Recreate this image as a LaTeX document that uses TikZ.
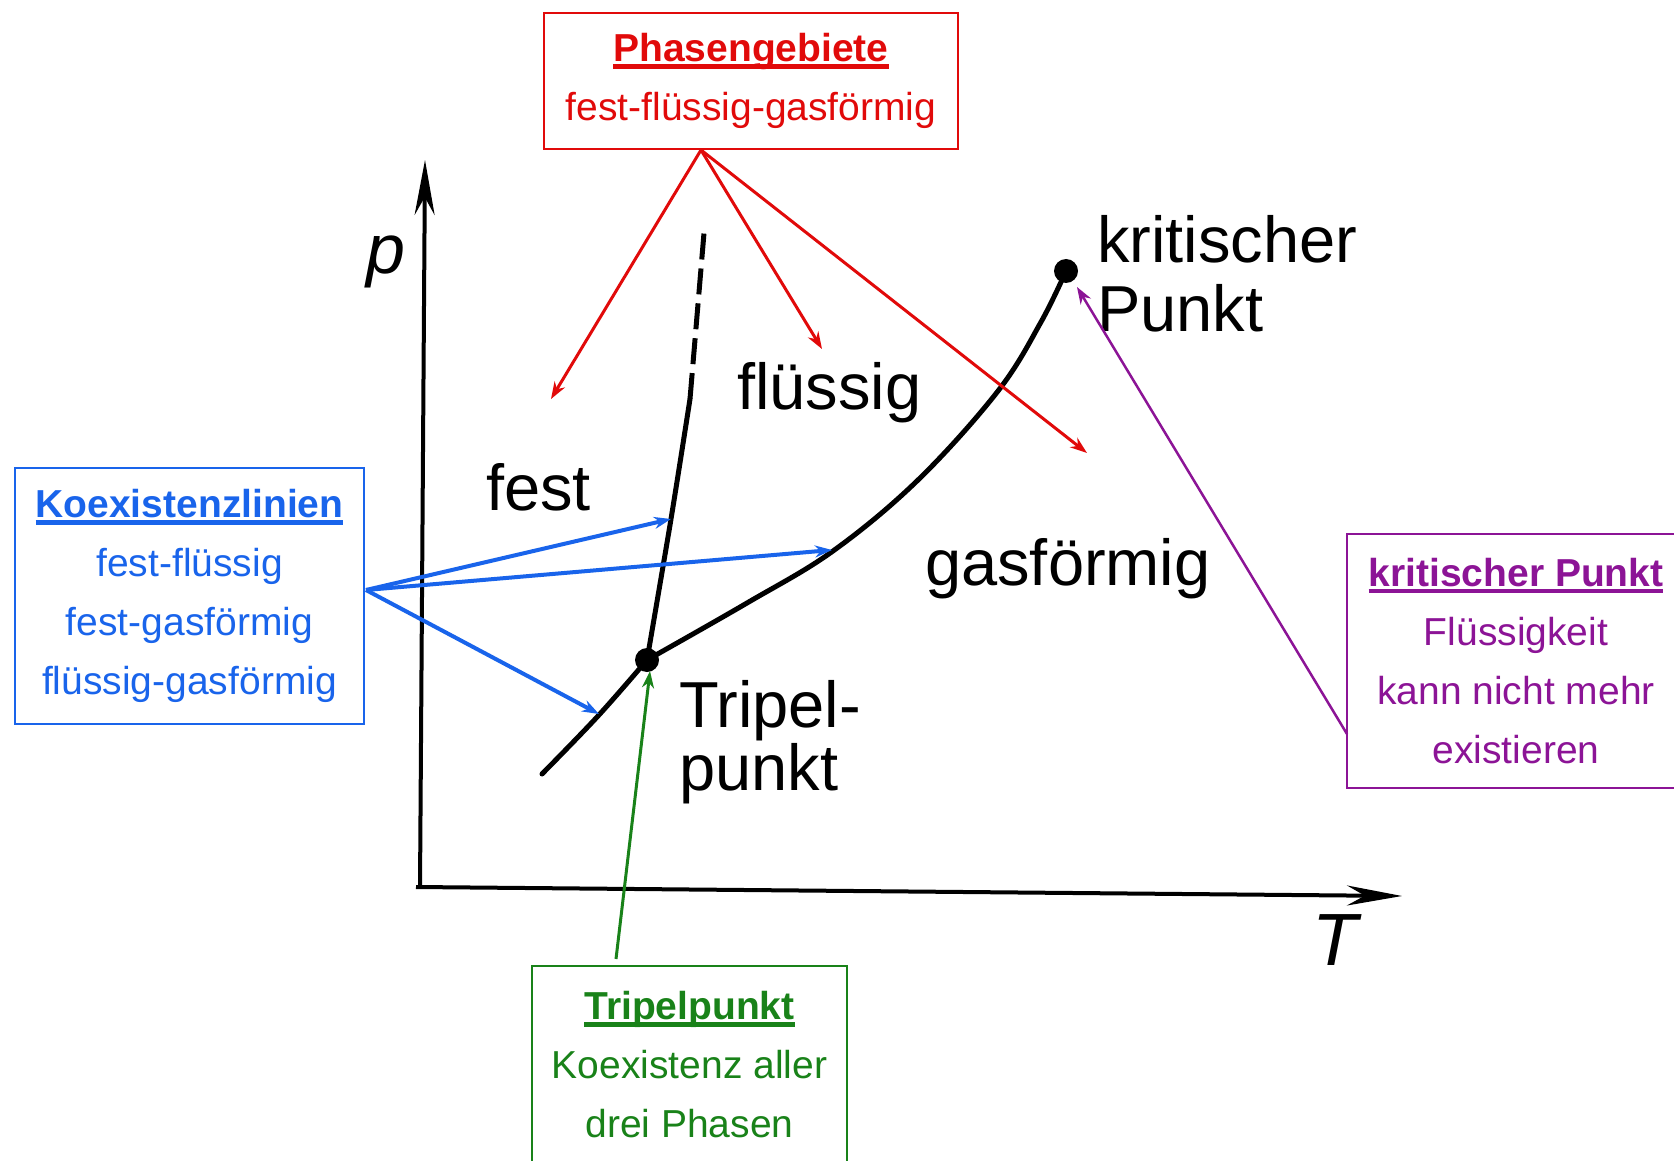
\documentclass[tikz,border=0pt]{standalone}
\usepackage{fontspec}
\setmainfont{Liberation Sans}
\usetikzlibrary{arrows.meta}
\definecolor{phasered}{RGB}{225,10,10}
\definecolor{coexblue}{RGB}{25,100,235}
\definecolor{tripgreen}{RGB}{25,130,25}
\definecolor{critpurple}{RGB}{140,20,150}
\newsavebox{\headbox}
\newcommand{\ulhead}[1]{\sbox{\headbox}{\bfseries #1}\leavevmode\rlap{\rule[-7pt]{\wd\headbox}{4.5pt}}\usebox{\headbox}}

\begin{document}
\begin{tikzpicture}[x=1pt, y=-1pt,
    infobox/.style={rectangle, draw, line width=2pt, align=center,
                    inner sep=0pt, font=\fontsize{39}{59}\selectfont},
    phaselbl/.style={anchor=base west, inner sep=0pt,
                     font=\fontsize{65}{65}\selectfont},
    curve/.style={line width=5pt, line cap=round},
    axis/.style={line width=4pt, -{Stealth[length=55pt,width=20pt]}},
    arr/.style={->, >={Stealth[length=17pt,width=12pt]}, line width=3pt}
  ]
    \useasboundingbox (0,0) rectangle (1674,1161);
    % axes
    \coordinate (p0) at (420,888);
    \coordinate (ptip) at (425,160);
    \coordinate (Ttip) at (1402,896);
    \draw[axis] (p0) -- (ptip);
    \draw[axis] (416,887) -- (Ttip);
    \node[font=\fontsize{70}{70}\selectfont\itshape, inner sep=0pt] (plbl) at (386,262) {p};
    \node[font=\fontsize{74}{74}\selectfont\itshape, inner sep=0pt] (Tlbl) at (1335,940) {T};
    % coexistence lines
    \coordinate (tp) at (647,660);
    \coordinate (cp) at (1066,271);
    \coordinate (melt) at (690,399);
    \draw[curve] plot[smooth, tension=0.6] coordinates {(542,774) (598,716) (tp)};
    \draw[curve] plot[smooth, tension=0.6] coordinates {(tp) (747,603) (833,551) (918,480) (998,391) (1041,322) (cp)};
    \draw[curve] plot[smooth] coordinates {(tp) (671,519) (melt)};
    \draw[curve, line cap=butt, dash pattern=on 26pt off 9pt] (melt) -- (704,233);
    \fill (tp) circle (12pt);
    \fill (cp) circle (12pt);
    % phase labels
    \node[phaselbl] (fest) at (486,510) {fest};
    \node[phaselbl] (fluessig) at (737,409) {flüssig};
    \node[phaselbl] (gas) at (925,585) {gasförmig};
    \node[phaselbl, align=left] (krit) at (1097,331) {kritischer\\[4pt]Punkt};
    \node[phaselbl, align=left] (tripel) at (679,790) {Tripel-\\[-2pt]punkt};
    % boxes
    \node[infobox, draw=phasered, text=phasered, minimum width=414pt, minimum height=136pt]
        (phasen) at (751,81) {\ulhead{Phasengebiete}\\fest-flüssig-gasförmig};
    \node[infobox, draw=coexblue, text=coexblue, minimum width=349pt, minimum height=256pt]
        (koex) at (189.5,596) {\ulhead{Koexistenzlinien}\\fest-flüssig\\fest-gasförmig\\flüssig-gasförmig};
    \node[infobox, draw=tripgreen, text=tripgreen, minimum width=315pt, minimum height=198pt]
        (tripbox) at (689.5,1065) {\ulhead{Tripelpunkt}\\Koexistenz aller\\drei Phasen};
    \node[infobox, draw=critpurple, text=critpurple, minimum width=338pt, minimum height=254pt]
        (kritbox) at (1516,661) {\ulhead{kritischer Punkt}\\Flüssigkeit\\kann nicht mehr\\existieren};
    % arrows
    \coordinate (rsrc) at (701,150);
    \coordinate (bsrc) at (366,590);
    \coordinate (gsrc) at (616,959);
    \coordinate (psrc) at (1347,734);
    \draw[arr, phasered] (rsrc) -- (551,399);
    \draw[arr, phasered] (rsrc) -- (822,349);
    \draw[arr, phasered] (rsrc) -- (1087,453);
    \draw[arr, coexblue, line width=4pt] (bsrc) -- (671,519);
    \draw[arr, coexblue, line width=4pt] (bsrc) -- (832,550);
    \draw[arr, coexblue, line width=4pt] (bsrc) -- (599,714);
    \draw[arr, tripgreen] (gsrc) -- (650,671);
    \draw[arr, critpurple, line width=2.5pt] (psrc) -- (1077,287);
  \end{tikzpicture}
\end{document}
